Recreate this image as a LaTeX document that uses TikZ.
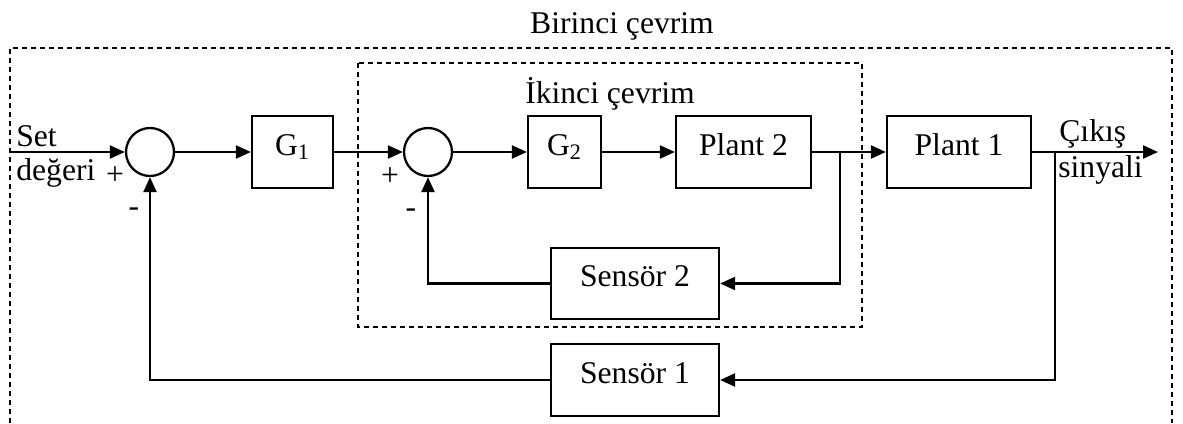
\documentclass[tikz,border=0pt]{standalone}
\usepackage{fontspec}
\setmainfont{Liberation Serif}
\usetikzlibrary{arrows.meta}
\begin{document}
\begin{tikzpicture}[x=0.02cm,y=-0.02cm,
  font=\fontsize{18}{21}\selectfont,
  blk/.style={draw,line width=1.3pt,inner sep=0pt,text height=0.42cm,text depth=0.30cm},
  sumc/.style={draw,line width=1.3pt,circle,inner sep=0pt,minimum size=0.96cm},
  conn/.style={line width=1.3pt},
  arr/.style={line width=1.3pt,-{Triangle[length=0.30cm,width=0.26cm]}},
  frame/.style={line width=1pt,dash pattern=on 0.1cm off 0.08cm},
  lbl/.style={inner sep=0pt}]
\useasboundingbox (0,0) rectangle (1183,423);
% frames
\draw[frame] (10,423) -- (10,48) -- (1172,48) -- (1172,423);
\draw[frame] (358,63) rectangle (862,327);
\node[lbl,anchor=base] (t1) at (622,33) {Birinci çevrim};
\node[lbl,anchor=base] (t2) at (610,103) {İkinci çevrim};
% blocks
\node[sumc] (s1) at (150,152) {};
\node[blk,minimum width=1.62cm,minimum height=1.44cm] (g1) at (292.5,152) {G\textsubscript{1}};
\node[sumc] (s2) at (428,152) {};
\node[blk,minimum width=1.46cm,minimum height=1.44cm] (g2) at (564.5,152) {G\textsubscript{2}};
\node[blk,minimum width=2.7cm,minimum height=1.44cm] (p2) at (743.5,152) {Plant 2};
\node[blk,minimum width=2.88cm,minimum height=1.44cm] (p1) at (959,152) {Plant 1};
\node[blk,minimum width=3.36cm,minimum height=1.42cm] (se2) at (635,283.5) {Sensör 2};
\node[blk,minimum width=3.36cm,minimum height=1.44cm] (se1) at (635,380) {Sensör 1};
% coordinates
\coordinate (in) at (10,152);
\coordinate (out) at (1158,152);
\coordinate (b2) at (840,152);
\coordinate (b1) at (1055,152);
% connectors
\draw[arr] (in) -- (s1.west);
\draw[arr] (s1.east) -- (g1.west);
\draw[arr] (g1.east) -- (s2.west);
\draw[arr] (s2.east) -- (g2.west);
\draw[arr] (g2.east) -- (p2.west);
\draw[arr] (p2.east) -- (p1.west);
\draw[arr] (p1.east) -- (out);
\draw[arr] (b2) |- (se2.east);
\draw[arr] (se2.west) -| (s2.south);
\draw[arr] (b1) |- (se1.east);
\draw[arr] (se1.west) -| (s1.south);
% signs and labels
\node[lbl] (pl1) at (115,176) {+};
\node[lbl] (pl2) at (390,177) {+};
\node[lbl] (mi1) at (134,212) {-};
\node[lbl] (mi2) at (411,213) {-};
\node[lbl,anchor=base west] (set) at (16,146) {Set};
\node[lbl,anchor=base west] (deg) at (16,180) {değeri};
\node[lbl,anchor=base west] (cik) at (1059,141) {Çıkış};
\node[lbl,anchor=base west] (sin) at (1058,177) {sinyali};
\end{tikzpicture}
\end{document}
